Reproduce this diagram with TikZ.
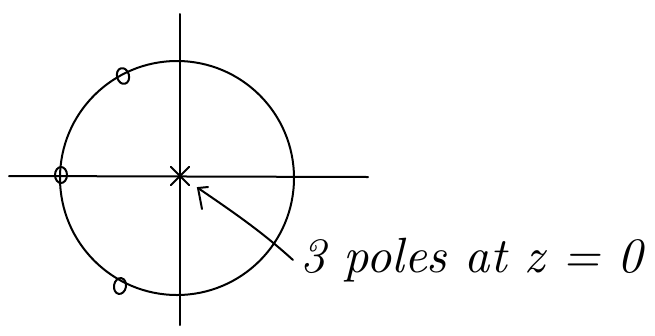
\documentclass[tikz,border=0pt]{standalone}
\usepackage{graphicx}
\usetikzlibrary{shapes.geometric}
\begin{document}
\begin{tikzpicture}[x=1pt,y=-1pt,line cap=round,
  ink/.style={line width=2pt,black},
  zero/.style={draw,ink,ellipse,minimum width=12pt,minimum height=16pt,inner sep=0pt},
  pole/.style={inner sep=0pt,minimum size=18pt}]
\useasboundingbox (0,0) rectangle (655,335);
% axes
\coordinate (xl) at (9,176);
\coordinate (xr) at (368,177);
\coordinate (yt) at (180,14);
\coordinate (yb) at (180,325);
\draw[ink] (xl) -- (xr);
\draw[ink] (yt) -- (yb);
% unit circle
\node[draw,ink,circle,minimum size=234pt,inner sep=0pt] (uc) at (177,178) {};
% zeros
\node[zero,rotate=15] (z1) at (123,76) {};
\node[zero] (z2) at (61,175) {};
\node[zero,rotate=-10] (z3) at (120,286) {};
% pole (triple) at origin
\node[pole] (p) at (180,176) {};
\draw[ink] (p.north west) -- (p.south east);
\draw[ink] (p.south west) -- (p.north east);
% label
\node[anchor=base west,inner sep=0pt] (lab) at (300,272)
  {\resizebox{343pt}{!}{\itshape 3 poles at z = 0}};
\coordinate (tail) at (293,260);
\coordinate (tip) at (198,188);
\draw[ink] (tail) .. controls (260,230) and (230,210) .. (tip);
\draw[ink] (208,187) -- (tip) -- (202,209);
\end{tikzpicture}
\end{document}
